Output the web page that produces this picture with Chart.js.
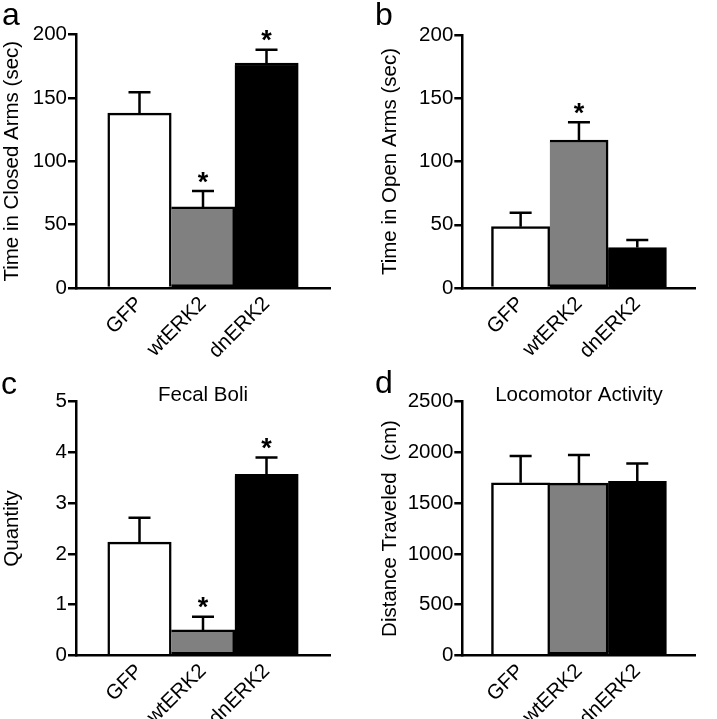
<!DOCTYPE html>
<html>
<head>
<meta charset="utf-8">
<script src="https://cdn.jsdelivr.net/npm/chart.js@4/dist/chart.umd.min.js"></script>
<style>
  body { margin: 0; background: #fff; }
  #wrap { position: relative; width: 717px; height: 719px; overflow: hidden; }
  canvas { position: absolute; }
  .tag { position: absolute; font: 32px "Liberation Sans", Arial, sans-serif; line-height: 1; color: #000; }
</style>
</head>
<body>
<div id="wrap">
  <canvas id="pa" width="358" height="360" style="left:0;top:0"></canvas>
  <canvas id="pb" width="359" height="360" style="left:358px;top:0"></canvas>
  <canvas id="pc" width="358" height="359" style="left:0;top:360px"></canvas>
  <canvas id="pd" width="359" height="359" style="left:358px;top:360px"></canvas>
  <div class="tag" style="left:2px;top:-2px">a</div>
  <div class="tag" style="left:375px;top:-2px">b</div>
  <div class="tag" style="left:1px;top:367px">c</div>
  <div class="tag" style="left:375px;top:366px">d</div>
</div>
<script>
const groups = ['GFP', 'wtERK2', 'dnERK2'];
const barColors = ['#ffffff', '#808080', '#000000'];

// a: elevated plus maze, closed arms
const closedMean = [138, 64, 177.5];
const closedSem = [16.5, 12.5, 10.5];
const closedStar = [false, true, true];

// b: open arms
const openMean = [48.5, 117, 32];
const openSem = [11, 14, 6];
const openStar = [false, true, false];

// c: fecal boli
const boliMean = [2.23, 0.5, 3.57];
const boliSem = [0.48, 0.26, 0.33];
const boliStar = [false, true, true];

// d: locomotor activity
const distMean = [1700, 1698, 1716];
const distSem = [265, 277, 175];
const distStar = [false, false, false];

const FONT = '"Liberation Sans", Arial, sans-serif';

function errorPlugin(mean, sem, star) {
  return {
    id: 'errorBars',
    afterDatasetsDraw(chart) {
      const ctx = chart.ctx;
      const y = chart.scales.y;
      const meta = chart.getDatasetMeta(0);
      ctx.save();
      ctx.strokeStyle = '#000';
      ctx.fillStyle = '#000';
      ctx.lineWidth = 2.5;
      mean.forEach((m, i) => {
        const bar = meta.data[i + 1];
        const y0 = y.getPixelForValue(m);
        const y1 = y.getPixelForValue(m + sem[i]);
        ctx.beginPath();
        ctx.moveTo(bar.x, y0);
        ctx.lineTo(bar.x, y1);
        ctx.moveTo(bar.x - 11, y1);
        ctx.lineTo(bar.x + 11, y1);
        ctx.stroke();
        if (star[i]) {
          ctx.font = 'bold 27px ' + FONT;
          ctx.textAlign = 'center';
          ctx.textBaseline = 'alphabetic';
          ctx.fillText('*', bar.x, y1 - 0.5);
        }
      });
      ctx.restore();
    }
  };
}

function makePanel(id, p) {
  new Chart(document.getElementById(id), {
    type: 'bar',
    data: {
      labels: ['', ...groups, ''],
      datasets: [{
        data: [null, ...p.mean, null],
        backgroundColor: ['#fff', ...barColors, '#fff'],
        borderColor: '#000',
        borderWidth: 2.5,
        borderSkipped: c => c.dataIndex > 1 ? 'left' : 'start',
        barPercentage: 1,
        categoryPercentage: 1
      }]
    },
    options: {
      responsive: false,
      animation: false,
      layout: { padding: { left: 0, top: p.title ? 0 : p.top, right: p.w - p.right, bottom: 0 } },
      plugins: {
        legend: { display: false },
        tooltip: { enabled: false },
        title: p.title ? {
          display: true, text: p.title, fullSize: false, color: '#000',
          font: { family: FONT, size: 20.5, weight: 'normal', lineHeight: 0.6 },
          padding: { top: p.top - 12.3, bottom: 0 }
        } : { display: false }
      },
      scales: {
        x: {
          offset: false,
          grid: { display: false, drawTicks: false },
          border: { color: '#000', width: 2.5 },
          ticks: { autoSkip: false, minRotation: 45, maxRotation: 45, color: '#000', font: { family: FONT, size: 20.5 }, padding: 4 },
          afterFit: s => { s.height = p.h - p.bottom; }
        },
        y: {
          min: 0,
          max: p.max,
          ticks: { stepSize: p.step, color: '#000', font: { family: FONT, size: 20.5 }, padding: 1, callback: v => String(v) },
          grid: { drawOnChartArea: false, color: '#000', lineWidth: 2.5, tickLength: 8 },
          border: { color: '#000', width: 2.5 },
          title: {
            display: true, text: p.yTitle, color: '#000',
            font: { family: FONT, size: 20.5, lineHeight: 1.2 },
            padding: { top: p.yTitlePad, bottom: 0 }
          },
          afterFit: s => { s.width = p.left; }
        }
      }
    },
    plugins: [errorPlugin(p.mean, p.sem, p.star)]
  });
}

makePanel('pa', { w: 358, h: 360, left: 76, right: 330, top: 34.5, bottom: 288,
  max: 200, step: 50, yTitle: 'Time in Closed Arms (sec)', yTitlePad: 0,
  mean: closedMean, sem: closedSem, star: closedStar });
makePanel('pb', { w: 359, h: 360, left: 104.3, right: 356.7, top: 35, bottom: 288,
  max: 200, step: 50, yTitle: 'Time in Open Arms (sec)', yTitlePad: 19.6,
  mean: openMean, sem: openSem, star: openStar });
makePanel('pc', { w: 358, h: 359, left: 76, right: 330, top: 41.7, bottom: 295.3,
  max: 5, step: 1, yTitle: 'Quantity', yTitlePad: 0, title: 'Fecal Boli',
  mean: boliMean, sem: boliSem, star: boliStar });
makePanel('pd', { w: 359, h: 359, left: 104.3, right: 358, top: 41.7, bottom: 295.3,
  max: 2500, step: 500, yTitle: 'Distance Traveled  (cm)', yTitlePad: 19.6, title: 'Locomotor Activity',
  mean: distMean, sem: distSem, star: distStar });
</script>
</body>
</html>
